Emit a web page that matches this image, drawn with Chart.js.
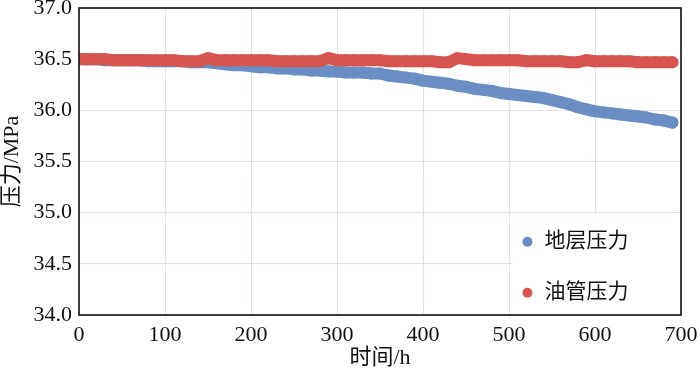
<!DOCTYPE html>
<html>
<head>
<meta charset="utf-8">
<script src="https://cdn.jsdelivr.net/npm/chart.js@4/dist/chart.umd.min.js"></script>
<style>
html,body{margin:0;padding:0;background:#fff;}
#wrap{width:700px;height:370px;position:relative;}
.pre{position:absolute;left:-999px;top:0;}
</style>
</head>
<body>
<div id="wrap"><canvas id="c" width="700" height="370"></canvas></div>
<span class="pre" style="font-family:'Liberation Serif'">0123.</span>
<span class="pre" style="font-family:'Noto Sans CJK SC'">地层压力油管时间</span>
<script>
const times = [0,10,20,30,40,50,60,70,80,90,100,110,120,130,140,150,160,170,180,190,200,210,220,230,240,250,260,270,280,290,300,310,320,330,340,350,360,370,380,390,400,410,420,430,440,450,460,470,480,490,500,510,520,530,540,550,560,570,580,590,600,610,620,630,640,650,660,670,680,690];
const formationPressure = [36.50,36.50,36.50,36.49,36.49,36.49,36.49,36.49,36.48,36.48,36.48,36.48,36.48,36.47,36.47,36.47,36.46,36.45,36.44,36.44,36.43,36.42,36.42,36.41,36.41,36.40,36.40,36.39,36.39,36.38,36.38,36.37,36.37,36.37,36.36,36.36,36.34,36.33,36.32,36.31,36.29,36.28,36.27,36.26,36.24,36.23,36.21,36.20,36.19,36.17,36.16,36.15,36.14,36.13,36.12,36.10,36.08,36.06,36.03,36.01,35.99,35.98,35.97,35.96,35.95,35.94,35.93,35.91,35.90,35.88];
const tubingPressure = [36.50,36.50,36.50,36.50,36.49,36.49,36.49,36.49,36.49,36.49,36.49,36.49,36.48,36.48,36.48,36.51,36.49,36.49,36.49,36.49,36.49,36.49,36.49,36.48,36.48,36.48,36.48,36.48,36.48,36.51,36.49,36.49,36.49,36.49,36.49,36.49,36.48,36.48,36.48,36.48,36.48,36.48,36.47,36.47,36.51,36.50,36.49,36.49,36.49,36.49,36.49,36.49,36.48,36.48,36.48,36.48,36.48,36.47,36.47,36.49,36.48,36.48,36.48,36.48,36.48,36.47,36.47,36.47,36.47,36.47];
const seriesLabels = ['地层压力','油管压力'];
const seriesColors = ['#6a8ec4','#d65550'];
const xTitle = '时间/h';
const yTitle = '压力/MPa';

const pts = (ys) => times.map((t,i)=>({x:t,y:ys[i]}));
const serif = "'Liberation Serif', 'Noto Sans CJK SC', serif";

const framePlugin = {
  id:'frame',
  afterDraw(chart){
    const ctx = chart.ctx, a = chart.chartArea;
    ctx.save();
    const lx = a.left + (a.right - a.left) * 0.72;
    const ly = a.top + (a.bottom - a.top) * 0.67;
    ctx.fillStyle = '#fff';
    ctx.fillRect(lx, ly, a.right - lx, a.bottom - ly);
    const rows = [ly + 28, ly + 79];
    ctx.font = "21px " + serif;
    ctx.textBaseline = 'middle';
    ctx.textAlign = 'left';
    seriesLabels.forEach((lab,i)=>{
      ctx.fillStyle = seriesColors[i];
      ctx.beginPath();
      ctx.arc(lx + 15, rows[i], 5, 0, Math.PI*2);
      ctx.fill();
      ctx.fillStyle = '#111';
      ctx.fillText(lab, lx + 32, rows[i]);
    });
    ctx.strokeStyle = '#111';
    ctx.lineWidth = 1.6;
    ctx.strokeRect(a.left, a.top, a.right - a.left, a.bottom - a.top);
    ctx.restore();
  }
};

function build(){
new Chart(document.getElementById('c'), {
  type:'scatter',
  data:{
    datasets:[
      {label:seriesLabels[0], data:pts(formationPressure), showLine:true, borderColor:seriesColors[0], backgroundColor:seriesColors[0], borderWidth:12, pointRadius:6, pointBorderWidth:0, borderCapStyle:'round', borderJoinStyle:'round', order:2, clip:0},
      {label:seriesLabels[1], data:pts(tubingPressure), showLine:true, borderColor:seriesColors[1], backgroundColor:seriesColors[1], borderWidth:12, pointRadius:6, pointBorderWidth:0, borderCapStyle:'round', borderJoinStyle:'round', order:1, clip:0}
    ]
  },
  options:{
    responsive:false,
    animation:false,
    devicePixelRatio:1,
    layout:{padding:{left:0,right:19,top:8,bottom:0}},
    plugins:{legend:{display:false}, tooltip:{enabled:false}},
    scales:{
      x:{
        type:'linear', min:0, max:700,
        ticks:{stepSize:100, color:'#111', font:{family:serif, size:22}, padding:7, maxRotation:0},
        grid:{color:'#eadfdf', lineWidth:1, drawTicks:false},
        border:{display:false},
        title:{display:true, text:xTitle, color:'#111', font:{family:serif, size:22, lineHeight:1.1}, padding:{top:0,bottom:0}},
        afterFit(s){ s.height = 55; s.paddingLeft = 0; s.paddingRight = 0; }
      },
      y:{
        min:34, max:37,
        ticks:{stepSize:0.5, color:'#111', font:{family:serif, size:22}, padding:7, callback:v=>v.toFixed(1)},
        grid:{color:'#eadfdf', lineWidth:1, drawTicks:false},
        border:{display:false},
        title:{display:true, text:yTitle, color:'#111', font:{family:serif, size:22, lineHeight:1.1}, padding:{top:0,bottom:0}},
        afterFit(s){ s.width = 79; s.paddingTop = 0; s.paddingBottom = 0; }
      }
    }
  },
  plugins:[framePlugin]
});
}
Promise.all([
  document.fonts.load("22px 'Liberation Serif'"),
  document.fonts.load("21px 'Noto Sans CJK SC'", "地层压力")
]).then(build, build);
</script>
</body>
</html>
